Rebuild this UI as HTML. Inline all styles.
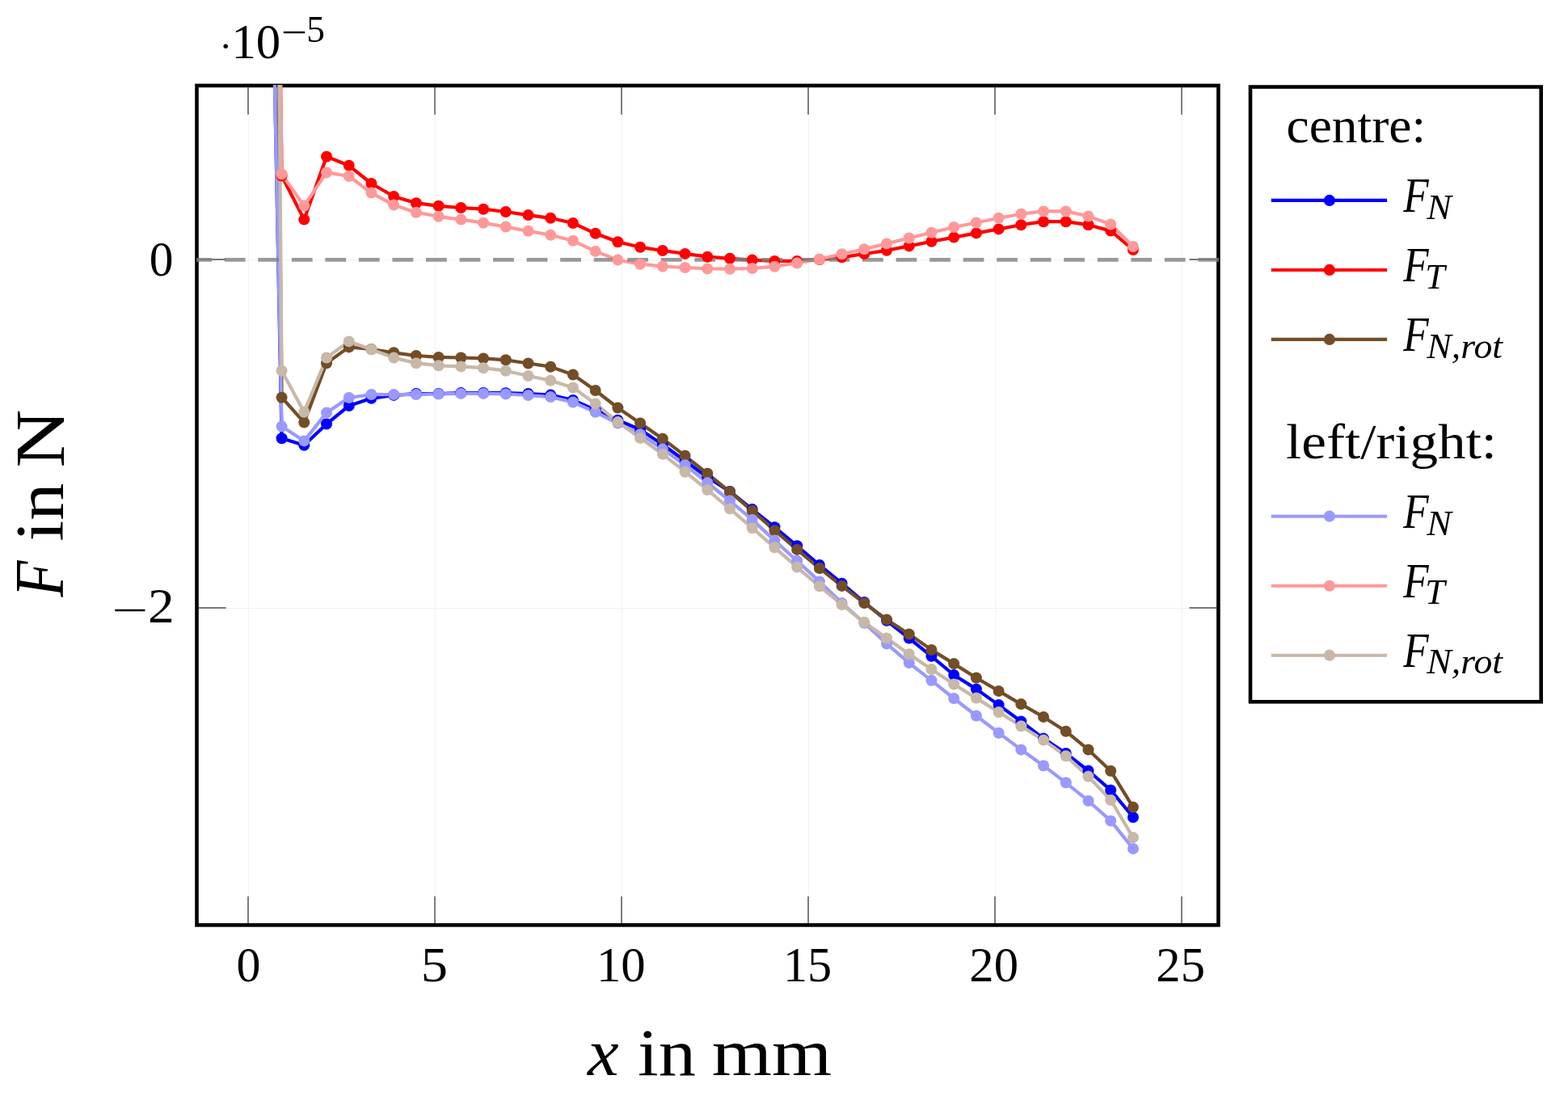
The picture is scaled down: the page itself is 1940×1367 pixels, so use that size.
<!DOCTYPE html>
<html><head><meta charset="utf-8"><style>
html,body{margin:0;padding:0;background:#fff;}
body{width:1940px;height:1367px;overflow:hidden;}
svg{display:block;}
</style></head><body>
<svg width="1940" height="1367" viewBox="0 0 1940 1367">
<defs><clipPath id="c"><rect x="243.5" y="105" width="1263.9" height="1039.4"/></clipPath></defs>
<rect width="1940" height="1367" fill="#fff"/>
<path d="M307.50 105.9V1144.4M538.50 105.9V1144.4M769.50 105.9V1144.4M1000.50 105.9V1144.4M1231.50 105.9V1144.4M1462.50 105.9V1144.4M243.5 321.80H1507.4M243.5 752.60H1507.4" stroke="#f2f2f2" stroke-width="1.1" fill="none"/>
<path d="M307.00 1142V1109M307.00 107.8V141.8M538.00 1142V1109M538.00 107.8V141.8M769.00 1142V1109M769.00 107.8V141.8M1000.00 1142V1109M1000.00 107.8V141.8M1231.00 1142V1109M1231.00 107.8V141.8M1462.00 1142V1109M1462.00 107.8V141.8M246 321.0H279.5M1505 321.0H1471.5M246 752.0H279.5M1505 752.0H1471.5" stroke="#777" stroke-width="1.9" fill="none"/>
<rect x="243.5" y="105.9" width="1263.90" height="1038.50" fill="none" stroke="#000" stroke-width="4.6"/>
<g clip-path="url(#c)" fill="none" stroke-width="4.20" stroke-linejoin="round" stroke-linecap="butt">
<path d="M339.90 100.00 L348.58 542.30 L376.30 550.80 L404.02 524.50 L431.74 502.00 L459.46 492.80 L487.18 488.90 L514.90 487.00 L542.62 487.00 L570.34 486.10 L598.06 486.00 L625.78 486.20 L653.50 487.00 L681.22 488.60 L708.94 495.00 L736.66 507.20 L764.38 519.70 L792.10 531.50 L819.82 550.00 L847.54 570.00 L875.26 590.50 L902.98 608.00 L930.70 630.10 L958.42 652.20 L986.14 675.30 L1013.86 699.00 L1041.58 721.70 L1069.30 745.00 L1097.02 767.80 L1124.74 789.50 L1152.46 811.80 L1180.18 835.00 L1207.90 852.40 L1235.62 872.10 L1263.34 892.50 L1291.06 913.60 L1318.78 932.00 L1346.50 953.50 L1374.22 977.40 L1401.94 1011.00" stroke="#0000ff"/>
<path d="M347.00 100.00 L348.58 217.50 L376.30 271.60 L404.02 193.70 L431.74 204.80 L459.46 227.00 L487.18 243.00 L514.90 251.20 L542.62 254.80 L570.34 257.00 L598.06 258.70 L625.78 262.00 L653.50 266.10 L681.22 269.80 L708.94 276.00 L736.66 288.80 L764.38 299.20 L792.10 305.80 L819.82 310.00 L847.54 313.90 L875.26 317.70 L902.98 319.80 L930.70 321.60 L958.42 322.90 L986.14 322.90 L1013.86 321.10 L1041.58 318.30 L1069.30 314.00 L1097.02 309.80 L1124.74 304.40 L1152.46 298.80 L1180.18 293.60 L1207.90 288.40 L1235.62 283.40 L1263.34 278.20 L1291.06 274.20 L1318.78 274.20 L1346.50 278.20 L1374.22 285.60 L1401.94 309.00" stroke="#ff0000"/>
<path d="M344.60 100.00 L348.58 491.70 L376.30 522.60 L404.02 449.20 L431.74 429.40 L459.46 432.00 L487.18 436.30 L514.90 440.00 L542.62 441.90 L570.34 442.50 L598.06 443.40 L625.78 445.30 L653.50 449.50 L681.22 453.70 L708.94 463.50 L736.66 483.00 L764.38 504.50 L792.10 523.40 L819.82 542.70 L847.54 563.80 L875.26 585.80 L902.98 608.30 L930.70 631.90 L958.42 656.20 L986.14 679.90 L1013.86 703.00 L1041.58 724.90 L1069.30 746.00 L1097.02 766.40 L1124.74 784.50 L1152.46 803.90 L1180.18 821.10 L1207.90 838.50 L1235.62 854.90 L1263.34 871.10 L1291.06 886.90 L1318.78 904.70 L1346.50 927.40 L1374.22 953.70 L1401.94 998.60" stroke="#734d26"/>
<path d="M339.80 100.00 L348.58 527.60 L376.30 545.40 L404.02 510.60 L431.74 492.00 L459.46 488.10 L487.18 488.10 L514.90 488.10 L542.62 487.40 L570.34 486.90 L598.06 486.90 L625.78 487.40 L653.50 489.00 L681.22 491.10 L708.94 497.50 L736.66 509.80 L764.38 523.60 L792.10 537.30 L819.82 555.60 L847.54 575.20 L875.26 597.20 L902.98 619.50 L930.70 642.90 L958.42 668.60 L986.14 693.70 L1013.86 719.40 L1041.58 746.00 L1069.30 770.70 L1097.02 796.40 L1124.74 820.10 L1152.46 841.80 L1180.18 864.00 L1207.90 885.50 L1235.62 906.70 L1263.34 927.40 L1291.06 947.20 L1318.78 968.30 L1346.50 990.70 L1374.22 1015.40 L1401.94 1049.90" stroke="#9999ff"/>
<path d="M347.30 100.00 L348.58 215.40 L376.30 254.60 L404.02 213.40 L431.74 218.00 L459.46 238.60 L487.18 253.60 L514.90 262.80 L542.62 267.80 L570.34 271.60 L598.06 275.70 L625.78 280.60 L653.50 285.70 L681.22 290.80 L708.94 297.80 L736.66 310.90 L764.38 321.60 L792.10 326.70 L819.82 329.50 L847.54 331.00 L875.26 332.40 L902.98 332.70 L930.70 332.00 L958.42 329.70 L986.14 325.50 L1013.86 320.70 L1041.58 314.20 L1069.30 308.20 L1097.02 301.40 L1124.74 294.50 L1152.46 287.80 L1180.18 281.00 L1207.90 275.50 L1235.62 269.80 L1263.34 264.80 L1291.06 261.40 L1318.78 261.40 L1346.50 267.50 L1374.22 277.50 L1401.94 305.00" stroke="#ff9999"/>
<path d="M345.40 100.00 L348.58 458.80 L376.30 509.80 L404.02 442.50 L431.74 422.40 L459.46 432.20 L487.18 442.60 L514.90 449.20 L542.62 452.30 L570.34 453.40 L598.06 455.20 L625.78 458.70 L653.50 465.00 L681.22 470.80 L708.94 479.50 L736.66 499.40 L764.38 522.10 L792.10 541.90 L819.82 561.80 L847.54 583.70 L875.26 606.10 L902.98 629.40 L930.70 653.20 L958.42 677.30 L986.14 701.60 L1013.86 725.30 L1041.58 748.00 L1069.30 769.70 L1097.02 789.50 L1124.74 809.20 L1152.46 828.00 L1180.18 846.50 L1207.90 863.60 L1235.62 881.00 L1263.34 898.20 L1291.06 915.60 L1318.78 935.30 L1346.50 960.60 L1374.22 989.70 L1401.94 1036.10" stroke="#c7b8a8"/>
</g>
<path d="M243 321.4H1508" stroke="#808080" stroke-opacity="0.8" stroke-width="4.9" stroke-dasharray="25.8 15.74" stroke-dashoffset="6.8" fill="none"/>
<g fill="#0000ff"><circle cx="348.58" cy="542.30" r="7.0"/><circle cx="376.30" cy="550.80" r="7.0"/><circle cx="404.02" cy="524.50" r="7.0"/><circle cx="431.74" cy="502.00" r="7.0"/><circle cx="459.46" cy="492.80" r="7.0"/><circle cx="487.18" cy="488.90" r="7.0"/><circle cx="514.90" cy="487.00" r="7.0"/><circle cx="542.62" cy="487.00" r="7.0"/><circle cx="570.34" cy="486.10" r="7.0"/><circle cx="598.06" cy="486.00" r="7.0"/><circle cx="625.78" cy="486.20" r="7.0"/><circle cx="653.50" cy="487.00" r="7.0"/><circle cx="681.22" cy="488.60" r="7.0"/><circle cx="708.94" cy="495.00" r="7.0"/><circle cx="736.66" cy="507.20" r="7.0"/><circle cx="764.38" cy="519.70" r="7.0"/><circle cx="792.10" cy="531.50" r="7.0"/><circle cx="819.82" cy="550.00" r="7.0"/><circle cx="847.54" cy="570.00" r="7.0"/><circle cx="875.26" cy="590.50" r="7.0"/><circle cx="902.98" cy="608.00" r="7.0"/><circle cx="930.70" cy="630.10" r="7.0"/><circle cx="958.42" cy="652.20" r="7.0"/><circle cx="986.14" cy="675.30" r="7.0"/><circle cx="1013.86" cy="699.00" r="7.0"/><circle cx="1041.58" cy="721.70" r="7.0"/><circle cx="1069.30" cy="745.00" r="7.0"/><circle cx="1097.02" cy="767.80" r="7.0"/><circle cx="1124.74" cy="789.50" r="7.0"/><circle cx="1152.46" cy="811.80" r="7.0"/><circle cx="1180.18" cy="835.00" r="7.0"/><circle cx="1207.90" cy="852.40" r="7.0"/><circle cx="1235.62" cy="872.10" r="7.0"/><circle cx="1263.34" cy="892.50" r="7.0"/><circle cx="1291.06" cy="913.60" r="7.0"/><circle cx="1318.78" cy="932.00" r="7.0"/><circle cx="1346.50" cy="953.50" r="7.0"/><circle cx="1374.22" cy="977.40" r="7.0"/><circle cx="1401.94" cy="1011.00" r="7.0"/></g>
<g fill="#ff0000"><circle cx="348.58" cy="217.50" r="7.0"/><circle cx="376.30" cy="271.60" r="7.0"/><circle cx="404.02" cy="193.70" r="7.0"/><circle cx="431.74" cy="204.80" r="7.0"/><circle cx="459.46" cy="227.00" r="7.0"/><circle cx="487.18" cy="243.00" r="7.0"/><circle cx="514.90" cy="251.20" r="7.0"/><circle cx="542.62" cy="254.80" r="7.0"/><circle cx="570.34" cy="257.00" r="7.0"/><circle cx="598.06" cy="258.70" r="7.0"/><circle cx="625.78" cy="262.00" r="7.0"/><circle cx="653.50" cy="266.10" r="7.0"/><circle cx="681.22" cy="269.80" r="7.0"/><circle cx="708.94" cy="276.00" r="7.0"/><circle cx="736.66" cy="288.80" r="7.0"/><circle cx="764.38" cy="299.20" r="7.0"/><circle cx="792.10" cy="305.80" r="7.0"/><circle cx="819.82" cy="310.00" r="7.0"/><circle cx="847.54" cy="313.90" r="7.0"/><circle cx="875.26" cy="317.70" r="7.0"/><circle cx="902.98" cy="319.80" r="7.0"/><circle cx="930.70" cy="321.60" r="7.0"/><circle cx="958.42" cy="322.90" r="7.0"/><circle cx="986.14" cy="322.90" r="7.0"/><circle cx="1013.86" cy="321.10" r="7.0"/><circle cx="1041.58" cy="318.30" r="7.0"/><circle cx="1069.30" cy="314.00" r="7.0"/><circle cx="1097.02" cy="309.80" r="7.0"/><circle cx="1124.74" cy="304.40" r="7.0"/><circle cx="1152.46" cy="298.80" r="7.0"/><circle cx="1180.18" cy="293.60" r="7.0"/><circle cx="1207.90" cy="288.40" r="7.0"/><circle cx="1235.62" cy="283.40" r="7.0"/><circle cx="1263.34" cy="278.20" r="7.0"/><circle cx="1291.06" cy="274.20" r="7.0"/><circle cx="1318.78" cy="274.20" r="7.0"/><circle cx="1346.50" cy="278.20" r="7.0"/><circle cx="1374.22" cy="285.60" r="7.0"/><circle cx="1401.94" cy="309.00" r="7.0"/></g>
<g fill="#734d26"><circle cx="348.58" cy="491.70" r="7.0"/><circle cx="376.30" cy="522.60" r="7.0"/><circle cx="404.02" cy="449.20" r="7.0"/><circle cx="431.74" cy="429.40" r="7.0"/><circle cx="459.46" cy="432.00" r="7.0"/><circle cx="487.18" cy="436.30" r="7.0"/><circle cx="514.90" cy="440.00" r="7.0"/><circle cx="542.62" cy="441.90" r="7.0"/><circle cx="570.34" cy="442.50" r="7.0"/><circle cx="598.06" cy="443.40" r="7.0"/><circle cx="625.78" cy="445.30" r="7.0"/><circle cx="653.50" cy="449.50" r="7.0"/><circle cx="681.22" cy="453.70" r="7.0"/><circle cx="708.94" cy="463.50" r="7.0"/><circle cx="736.66" cy="483.00" r="7.0"/><circle cx="764.38" cy="504.50" r="7.0"/><circle cx="792.10" cy="523.40" r="7.0"/><circle cx="819.82" cy="542.70" r="7.0"/><circle cx="847.54" cy="563.80" r="7.0"/><circle cx="875.26" cy="585.80" r="7.0"/><circle cx="902.98" cy="608.30" r="7.0"/><circle cx="930.70" cy="631.90" r="7.0"/><circle cx="958.42" cy="656.20" r="7.0"/><circle cx="986.14" cy="679.90" r="7.0"/><circle cx="1013.86" cy="703.00" r="7.0"/><circle cx="1041.58" cy="724.90" r="7.0"/><circle cx="1069.30" cy="746.00" r="7.0"/><circle cx="1097.02" cy="766.40" r="7.0"/><circle cx="1124.74" cy="784.50" r="7.0"/><circle cx="1152.46" cy="803.90" r="7.0"/><circle cx="1180.18" cy="821.10" r="7.0"/><circle cx="1207.90" cy="838.50" r="7.0"/><circle cx="1235.62" cy="854.90" r="7.0"/><circle cx="1263.34" cy="871.10" r="7.0"/><circle cx="1291.06" cy="886.90" r="7.0"/><circle cx="1318.78" cy="904.70" r="7.0"/><circle cx="1346.50" cy="927.40" r="7.0"/><circle cx="1374.22" cy="953.70" r="7.0"/><circle cx="1401.94" cy="998.60" r="7.0"/></g>
<g fill="#9999ff"><circle cx="348.58" cy="527.60" r="7.0"/><circle cx="376.30" cy="545.40" r="7.0"/><circle cx="404.02" cy="510.60" r="7.0"/><circle cx="431.74" cy="492.00" r="7.0"/><circle cx="459.46" cy="488.10" r="7.0"/><circle cx="487.18" cy="488.10" r="7.0"/><circle cx="514.90" cy="488.10" r="7.0"/><circle cx="542.62" cy="487.40" r="7.0"/><circle cx="570.34" cy="486.90" r="7.0"/><circle cx="598.06" cy="486.90" r="7.0"/><circle cx="625.78" cy="487.40" r="7.0"/><circle cx="653.50" cy="489.00" r="7.0"/><circle cx="681.22" cy="491.10" r="7.0"/><circle cx="708.94" cy="497.50" r="7.0"/><circle cx="736.66" cy="509.80" r="7.0"/><circle cx="764.38" cy="523.60" r="7.0"/><circle cx="792.10" cy="537.30" r="7.0"/><circle cx="819.82" cy="555.60" r="7.0"/><circle cx="847.54" cy="575.20" r="7.0"/><circle cx="875.26" cy="597.20" r="7.0"/><circle cx="902.98" cy="619.50" r="7.0"/><circle cx="930.70" cy="642.90" r="7.0"/><circle cx="958.42" cy="668.60" r="7.0"/><circle cx="986.14" cy="693.70" r="7.0"/><circle cx="1013.86" cy="719.40" r="7.0"/><circle cx="1041.58" cy="746.00" r="7.0"/><circle cx="1069.30" cy="770.70" r="7.0"/><circle cx="1097.02" cy="796.40" r="7.0"/><circle cx="1124.74" cy="820.10" r="7.0"/><circle cx="1152.46" cy="841.80" r="7.0"/><circle cx="1180.18" cy="864.00" r="7.0"/><circle cx="1207.90" cy="885.50" r="7.0"/><circle cx="1235.62" cy="906.70" r="7.0"/><circle cx="1263.34" cy="927.40" r="7.0"/><circle cx="1291.06" cy="947.20" r="7.0"/><circle cx="1318.78" cy="968.30" r="7.0"/><circle cx="1346.50" cy="990.70" r="7.0"/><circle cx="1374.22" cy="1015.40" r="7.0"/><circle cx="1401.94" cy="1049.90" r="7.0"/></g>
<g fill="#ff9999"><circle cx="348.58" cy="215.40" r="7.0"/><circle cx="376.30" cy="254.60" r="7.0"/><circle cx="404.02" cy="213.40" r="7.0"/><circle cx="431.74" cy="218.00" r="7.0"/><circle cx="459.46" cy="238.60" r="7.0"/><circle cx="487.18" cy="253.60" r="7.0"/><circle cx="514.90" cy="262.80" r="7.0"/><circle cx="542.62" cy="267.80" r="7.0"/><circle cx="570.34" cy="271.60" r="7.0"/><circle cx="598.06" cy="275.70" r="7.0"/><circle cx="625.78" cy="280.60" r="7.0"/><circle cx="653.50" cy="285.70" r="7.0"/><circle cx="681.22" cy="290.80" r="7.0"/><circle cx="708.94" cy="297.80" r="7.0"/><circle cx="736.66" cy="310.90" r="7.0"/><circle cx="764.38" cy="321.60" r="7.0"/><circle cx="792.10" cy="326.70" r="7.0"/><circle cx="819.82" cy="329.50" r="7.0"/><circle cx="847.54" cy="331.00" r="7.0"/><circle cx="875.26" cy="332.40" r="7.0"/><circle cx="902.98" cy="332.70" r="7.0"/><circle cx="930.70" cy="332.00" r="7.0"/><circle cx="958.42" cy="329.70" r="7.0"/><circle cx="986.14" cy="325.50" r="7.0"/><circle cx="1013.86" cy="320.70" r="7.0"/><circle cx="1041.58" cy="314.20" r="7.0"/><circle cx="1069.30" cy="308.20" r="7.0"/><circle cx="1097.02" cy="301.40" r="7.0"/><circle cx="1124.74" cy="294.50" r="7.0"/><circle cx="1152.46" cy="287.80" r="7.0"/><circle cx="1180.18" cy="281.00" r="7.0"/><circle cx="1207.90" cy="275.50" r="7.0"/><circle cx="1235.62" cy="269.80" r="7.0"/><circle cx="1263.34" cy="264.80" r="7.0"/><circle cx="1291.06" cy="261.40" r="7.0"/><circle cx="1318.78" cy="261.40" r="7.0"/><circle cx="1346.50" cy="267.50" r="7.0"/><circle cx="1374.22" cy="277.50" r="7.0"/><circle cx="1401.94" cy="305.00" r="7.0"/></g>
<g fill="#c7b8a8"><circle cx="348.58" cy="458.80" r="7.0"/><circle cx="376.30" cy="509.80" r="7.0"/><circle cx="404.02" cy="442.50" r="7.0"/><circle cx="431.74" cy="422.40" r="7.0"/><circle cx="459.46" cy="432.20" r="7.0"/><circle cx="487.18" cy="442.60" r="7.0"/><circle cx="514.90" cy="449.20" r="7.0"/><circle cx="542.62" cy="452.30" r="7.0"/><circle cx="570.34" cy="453.40" r="7.0"/><circle cx="598.06" cy="455.20" r="7.0"/><circle cx="625.78" cy="458.70" r="7.0"/><circle cx="653.50" cy="465.00" r="7.0"/><circle cx="681.22" cy="470.80" r="7.0"/><circle cx="708.94" cy="479.50" r="7.0"/><circle cx="736.66" cy="499.40" r="7.0"/><circle cx="764.38" cy="522.10" r="7.0"/><circle cx="792.10" cy="541.90" r="7.0"/><circle cx="819.82" cy="561.80" r="7.0"/><circle cx="847.54" cy="583.70" r="7.0"/><circle cx="875.26" cy="606.10" r="7.0"/><circle cx="902.98" cy="629.40" r="7.0"/><circle cx="930.70" cy="653.20" r="7.0"/><circle cx="958.42" cy="677.30" r="7.0"/><circle cx="986.14" cy="701.60" r="7.0"/><circle cx="1013.86" cy="725.30" r="7.0"/><circle cx="1041.58" cy="748.00" r="7.0"/><circle cx="1069.30" cy="769.70" r="7.0"/><circle cx="1097.02" cy="789.50" r="7.0"/><circle cx="1124.74" cy="809.20" r="7.0"/><circle cx="1152.46" cy="828.00" r="7.0"/><circle cx="1180.18" cy="846.50" r="7.0"/><circle cx="1207.90" cy="863.60" r="7.0"/><circle cx="1235.62" cy="881.00" r="7.0"/><circle cx="1263.34" cy="898.20" r="7.0"/><circle cx="1291.06" cy="915.60" r="7.0"/><circle cx="1318.78" cy="935.30" r="7.0"/><circle cx="1346.50" cy="960.60" r="7.0"/><circle cx="1374.22" cy="989.70" r="7.0"/><circle cx="1401.94" cy="1036.10" r="7.0"/></g>
<g font-family="'Liberation Serif', serif" fill="#000">
<text transform="translate(292.62,1214.20) scale(0.9869,1)" font-size="60.70">0</text>
<text transform="translate(520.84,1214.20) scale(1.0956,1)" font-size="60.70">5</text>
<text transform="translate(737.95,1214.20) scale(1.0009,1)" font-size="60.70">10</text>
<text transform="translate(968.90,1214.20) scale(0.9926,1)" font-size="60.70">15</text>
<text transform="translate(1199.33,1214.20) scale(0.9996,1)" font-size="60.70">20</text>
<text transform="translate(1430.33,1214.20) scale(0.9989,1)" font-size="60.70">25</text>
<text transform="translate(184.64,341.40) scale(0.9791,1)" font-size="60.70">0</text>
<text transform="translate(183.03,769.80) scale(1.0764,1)" font-size="60.70">2</text>
<text transform="translate(137.91,770.84) scale(1.6622,1)" font-size="48.00">−</text>
<text transform="translate(271.17,72.71) scale(1.0093,1)" font-size="47.46">·</text>
<text transform="translate(286.44,72.20) scale(1.0028,1)" font-size="60.70">10</text>
<text transform="translate(347.86,55.94) scale(1.1828,1)" font-size="48.00">−</text>
<text transform="translate(379.27,51.75) scale(0.9999,1)" font-size="45.41">5</text>
<text transform="translate(727.04,1330.10) scale(1.0402,1)" font-size="83.50" font-style="italic">x</text>
<text transform="translate(788.96,1330.10) scale(1.1088,1)" font-size="83.50">in</text>
<text transform="translate(880.80,1330.10) scale(1.1408,1)" font-size="83.50">mm</text>
<g transform="rotate(-90)">
<text transform="translate(-738.43,78.20) scale(0.8553,1)" font-size="86.00" font-style="italic">F</text>
<text transform="translate(-669.75,78.10) scale(1.1070,1)" font-size="84.00">in</text>
<text transform="translate(-578.60,78.60) scale(1.1543,1)" font-size="86.50">N</text>
</g>
<rect x="1547" y="107.5" width="359.7" height="760.7" fill="#fff" stroke="#000" stroke-width="4.6"/>
<text transform="translate(1591.49,176.20) scale(1.0451,1)" font-size="60.70">centre:</text>
<text transform="translate(1591.12,566.80) scale(1.1383,1)" font-size="60.70">left/right:</text>
<path d="M1572.8 247.90H1716.1" stroke="#0000ff" stroke-width="4.1" fill="none"/><circle cx="1644.9" cy="247.90" r="7.1" fill="#0000ff"/>
<text transform="translate(1736.16,262.00) scale(0.8475,1)" font-size="60.70" font-style="italic">F</text>
<text transform="translate(1765.32,271.00) scale(1.0231,1)" font-size="44.80" font-style="italic">N</text>
<path d="M1572.8 333.95H1716.1" stroke="#ff0000" stroke-width="4.1" fill="none"/><circle cx="1644.9" cy="333.95" r="7.1" fill="#ff0000"/>
<text transform="translate(1736.16,348.00) scale(0.8475,1)" font-size="60.70" font-style="italic">F</text>
<text transform="translate(1763.14,356.60) scale(0.9821,1)" font-size="44.80" font-style="italic">T</text>
<path d="M1572.8 419.90H1716.1" stroke="#734d26" stroke-width="4.1" fill="none"/><circle cx="1644.9" cy="419.90" r="7.1" fill="#734d26"/>
<text transform="translate(1736.16,434.00) scale(0.8475,1)" font-size="60.70" font-style="italic">F</text>
<text transform="translate(1765.32,442.60) scale(1.0224,1)" font-size="44.80" font-style="italic">N,rot</text>
<path d="M1572.8 638.70H1716.1" stroke="#9999ff" stroke-width="4.1" fill="none"/><circle cx="1644.9" cy="638.70" r="7.1" fill="#9999ff"/>
<text transform="translate(1736.16,652.80) scale(0.8475,1)" font-size="60.70" font-style="italic">F</text>
<text transform="translate(1765.32,661.80) scale(1.0231,1)" font-size="44.80" font-style="italic">N</text>
<path d="M1572.8 724.75H1716.1" stroke="#ff9999" stroke-width="4.1" fill="none"/><circle cx="1644.9" cy="724.75" r="7.1" fill="#ff9999"/>
<text transform="translate(1736.16,738.80) scale(0.8475,1)" font-size="60.70" font-style="italic">F</text>
<text transform="translate(1763.14,747.40) scale(0.9821,1)" font-size="44.80" font-style="italic">T</text>
<path d="M1572.8 810.70H1716.1" stroke="#c7b8a8" stroke-width="4.1" fill="none"/><circle cx="1644.9" cy="810.70" r="7.1" fill="#c7b8a8"/>
<text transform="translate(1736.16,824.80) scale(0.8475,1)" font-size="60.70" font-style="italic">F</text>
<text transform="translate(1765.32,833.40) scale(1.0224,1)" font-size="44.80" font-style="italic">N,rot</text>
</g>
</svg>
</body></html>
